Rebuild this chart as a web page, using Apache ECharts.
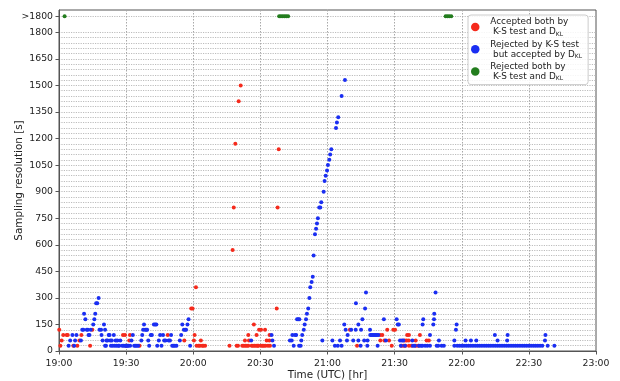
<!DOCTYPE html>
<html>
<head>
<meta charset="utf-8">
<script src="https://cdn.jsdelivr.net/npm/echarts@6/dist/echarts.min.js"></script>
<style>html,body{margin:0;padding:0;background:#fff}#c{width:620px;height:381px}</style>
</head>
<body>
<div id="c"></div>
<script>
// x = minutes after 19:00 UTC, y = sampling resolution [s]; 1890 encodes ">1800"
const xTickLabels = ['19:00','19:30','20:00','20:30','21:00','21:30','22:00','22:30','23:00'];
const yTickValues = [0,150,300,450,600,750,900,1050,1200,1350,1500,1650,1800,1890];
const yTickTexts  = ['0','150','300','450','600','750','900','1050','1200','1350','1500','1650','1800','>1800'];

const acceptedBoth = [
 [0.1,120],[0.6,30],[1.2,60],[1.9,90],[3.4,90],[3.9,90],[6.4,30],[8.2,30],[9.1,60],[10.0,90],
 [13.9,30],[14.9,120],[28.6,90],[29.5,90],[29.9,30],[31.4,60],[31.7,90],[36.0,30],[48.6,90],[56.0,60],
 [59.1,240],[59.7,240],[60.3,60],[60.6,90],[61.2,360],[61.5,30],[62.4,30],[63.0,30],[63.4,60],[64.0,30],
 [64.5,30],[65.3,30],[76.2,30],[77.6,570],[78.1,810],[78.8,1170],[79.4,30],[80.0,30],[80.3,1410],[81.2,1500],
 [81.9,30],[82.6,30],[83.1,60],[83.3,30],[84.0,30],[84.6,90],[84.6,30],[84.9,60],[86.1,30],[86.7,30],
 [87.1,150],[87.4,30],[88.1,30],[88.3,90],[88.8,30],[89.1,30],[89.4,120],[90.3,120],[90.3,30],[91.0,30],
 [91.6,30],[92.1,120],[92.3,30],[92.8,60],[93.4,30],[94.0,60],[94.1,90],[94.3,30],[97.3,240],[97.7,810],
 [98.2,1140],[130.0,120],[133.2,30],[143.5,90],[143.6,60],[144.5,90],[145.4,60],[146.7,120],[147.5,60],[148.7,30],
 [149.4,120],[150.2,120],[153.0,30],[153.9,30],[154.5,60],[154.8,30],[155.4,60],[155.6,90],[156.3,60],[156.4,90],
 [156.4,30],[157.6,30],[159.4,60],[159.5,30],[160.6,30],[161.3,90],[164.3,60],[165.3,60]
];

const rejectedKS = [
 [4.3,30],[5.0,60],[6.0,90],[6.8,30],[7.2,60],[7.8,90],[9.8,60],[10.4,120],[10.9,120],[11.2,210],
 [11.8,180],[12.4,120],[12.9,120],[13.2,90],[13.6,90],[14.2,120],[15.3,150],[15.8,180],[16.2,210],[16.6,270],
 [17.1,270],[17.7,300],[18.1,120],[18.8,120],[19.0,90],[19.5,60],[20.1,150],[20.6,120],[20.6,30],[21.0,30],
 [21.2,60],[21.7,60],[22.2,90],[22.6,90],[22.9,60],[23.2,30],[23.6,60],[24.0,30],[24.5,90],[24.9,30],
 [25.3,60],[25.7,30],[26.1,60],[26.5,30],[26.9,30],[27.4,60],[28.2,30],[28.9,30],[29.6,30],[30.1,30],
 [30.6,30],[31.0,30],[31.8,30],[32.4,60],[33.0,90],[33.6,30],[34.2,30],[34.8,30],[35.4,30],[36.8,60],
 [37.2,90],[37.6,120],[38.0,150],[38.5,120],[39.0,120],[39.4,120],[39.9,60],[40.3,30],[41.0,90],[41.5,90],
 [42.4,150],[43.0,150],[43.5,150],[43.9,30],[44.6,60],[45.2,90],[45.8,30],[46.5,90],[47.0,60],[47.6,60],
 [49.0,60],[49.6,60],[50.1,90],[50.6,30],[51.2,30],[51.8,30],[52.5,30],[54.0,60],[54.6,90],[55.1,150],
 [55.8,120],[56.4,120],[56.8,120],[57.4,150],[57.9,180],[58.6,30],
 [85.9,60],[95.0,90],[95.4,60],[96.1,30],
 [103.2,60],[104.0,60],[104.3,90],[104.9,30],[105.5,90],[106.0,90],[106.4,180],[106.9,180],[107.4,180],[107.3,30],
 [108.0,30],[108.3,60],[108.7,90],[109.4,120],[109.8,150],[110.4,180],[110.8,210],[111.4,240],[111.9,300],[112.3,360],
 [112.9,390],[113.4,420],[113.8,540],[114.4,660],[114.9,690],[115.3,720],[115.7,750],[116.3,810],[116.8,810],[117.2,840],
 [117.7,60],[118.3,900],[118.7,960],[119.2,990],[119.8,1020],[120.2,1050],[120.8,1080],[121.2,1110],[121.7,1140],[123.8,1260],
 [124.2,1290],[124.8,1320],[126.3,1440],[127.8,1530],
 [122.2,60],[123.3,30],[124.6,30],[125.6,60],[126.3,30],[127.5,150],[128.1,120],[128.7,60],[129.0,90],[130.6,120],
 [131.5,60],[132.6,120],[132.7,270],[133.8,150],[133.8,60],[134.8,30],[135.0,120],[135.6,180],[136.4,60],[136.8,240],
 [137.2,330],[137.8,30],[137.9,60],[139.0,120],[139.1,90],[139.6,90],[140.1,90],[140.6,90],[141.1,90],[141.6,90],
 [142.1,90],[142.4,30],[142.7,90],[145.2,180],[146.1,60],[150.9,180],[151.4,150],[151.9,150],[152.4,60],[152.8,30],
 [153.3,60],[153.9,60],[154.6,30],[157.9,60],[158.2,30],[159.0,30],[160.9,30],[161.8,30],[162.4,30],[162.5,150],
 [162.8,180],[163.6,30],[164.6,30],[165.8,30],[165.8,90],[167.3,150],[167.6,180],[167.7,210],[168.3,330],[168.8,30],
 [169.5,30],[169.8,60],[171.0,30],[172.0,30],[176.7,30],[176.7,60],[177.4,120],[177.7,150],
 [178,30],[179,30],[180,30],[181,30],[182,30],[183,30],[184,30],[185,30],[186,30],[187,30],
 [188,30],[189,30],[190,30],[191,30],[192,30],[193,30],[194,30],[195,30],[196,30],[197,30],
 [198,30],[199,30],[200,30],[201,30],[202,30],[203,30],[204,30],[205,30],[206,30],[207,30],
 [208,30],[209,30],[210,30],[211,30],[212,30],[213,30],[214,30],[215,30],[216,30],
 [181.7,60],[184.1,60],[186.5,60],[194.8,90],[196.0,60],[200.3,60],[200.5,90],[217.2,60],[217.4,90],[218.4,30],[221.4,30]
];

const rejectedBoth = [
 [2.5,1890],[98.4,1890],[99.2,1890],[100.0,1890],[100.8,1890],[101.6,1890],[102.4,1890],
 [172.8,1890],[173.6,1890],[174.4,1890],[175.3,1890]
];

const seriesNames = ['acc','rejKS','rejBoth'];
const legendTexts = [
  'Accepted both by\n K-S test and D{sub|KL}',
  'Rejected by K-S test\n but accepted by D{sub|KL}',
  'Rejected both by\n K-S test and D{sub|KL}'
];
const colors = ['#f52a1c','#1a2ef2','#237d1e'];

// grid lines every 30 s up to 1800, plus the ">1800" row
const yGridValues = [];
for (let v = 0; v <= 1800; v += 30) yGridValues.push(v);
yGridValues.push(1890);

const font = 'DejaVu Sans';
const chart = echarts.init(document.getElementById('c'), null, {renderer: 'canvas'});
const yMin = 0, yMax = 1926;

chart.setOption({
  animation: false,
  backgroundColor: '#fff',
  grid: {left: 59, right: 24, top: 10, bottom: 30, show: true, borderColor: '#555', borderWidth: 1,
         containLabel: false, outerBoundsMode: 'none'},
  legend: {
    data: seriesNames, orient: 'vertical', left: 468, top: 15,
    icon: 'circle', itemWidth: 20, itemHeight: 8.5, itemGap: 2.3,
    padding: [2, 6, 3, 3], backgroundColor: 'rgba(255,255,255,0.85)',
    borderColor: '#cccccc', borderWidth: 1, borderRadius: 3,
    formatter: function (name) { return legendTexts[seriesNames.indexOf(name)]; },
    textStyle: {fontFamily: font, fontSize: 8.9, lineHeight: 10, color: '#222',
      rich: {sub: {fontFamily: font, fontSize: 6, lineHeight: 4, verticalAlign: 'bottom', color: '#222'}}}
  },
  xAxis: {
    type: 'value', min: 0, max: 240, interval: 30,
    name: 'Time (UTC) [hr]', nameLocation: 'middle', nameGap: 19, nameMoveOverlap: false,
    nameTextStyle: {fontFamily: font, fontSize: 10.4, color: '#222'},
    axisLine: {show: true, lineStyle: {color: '#555', width: 1}},
    axisTick: {show: true, length: 3.5, inside: false, lineStyle: {color: '#555'}},
    axisLabel: {fontFamily: font, fontSize: 9.3, color: '#222', margin: 8,
      formatter: function (v) { return xTickLabels[Math.round(v / 30)]; }},
    splitLine: {show: true, lineStyle: {color: '#a8a8a8', width: 1, type: [1.5, 1.5]}}
  },
  yAxis: [{
    type: 'value', min: yMin, max: yMax,
    name: 'Sampling resolution [s]', nameLocation: 'middle', nameGap: 35, nameRotate: 90,
    nameMoveOverlap: false,
    nameTextStyle: {fontFamily: font, fontSize: 10.4, color: '#222'},
    axisLine: {show: true, lineStyle: {color: '#555', width: 1}},
    axisTick: {show: false, customValues: yGridValues},
    axisLabel: {fontFamily: font, fontSize: 9.3, color: '#222', margin: 6, customValues: yTickValues,
      formatter: function (v) { const i = yTickValues.indexOf(v); return i >= 0 ? yTickTexts[i] : ''; }},
    splitLine: {show: true, lineStyle: {color: '#bdbdbd', width: 1, type: [1.2, 1.2]}}
  }, {
    type: 'value', min: yMin, max: yMax, position: 'left',
    axisLine: {show: false}, axisLabel: {show: false}, splitLine: {show: false},
    axisTick: {show: true, length: 3.5, customValues: yTickValues, lineStyle: {color: '#555'}}
  }],
  series: [
    {name: 'acc', type: 'scatter', data: acceptedBoth, symbol: 'circle', symbolSize: 4,
     itemStyle: {color: colors[0], opacity: 1}, yAxisIndex: 0},
    {name: 'rejKS', type: 'scatter', data: rejectedKS, symbol: 'circle', symbolSize: 4,
     itemStyle: {color: colors[1], opacity: 1}, yAxisIndex: 0},
    {name: 'rejBoth', type: 'scatter', data: rejectedBoth, symbol: 'circle', symbolSize: 4,
     itemStyle: {color: colors[2], opacity: 1}, yAxisIndex: 0}
  ]
});
</script>
</body>
</html>
